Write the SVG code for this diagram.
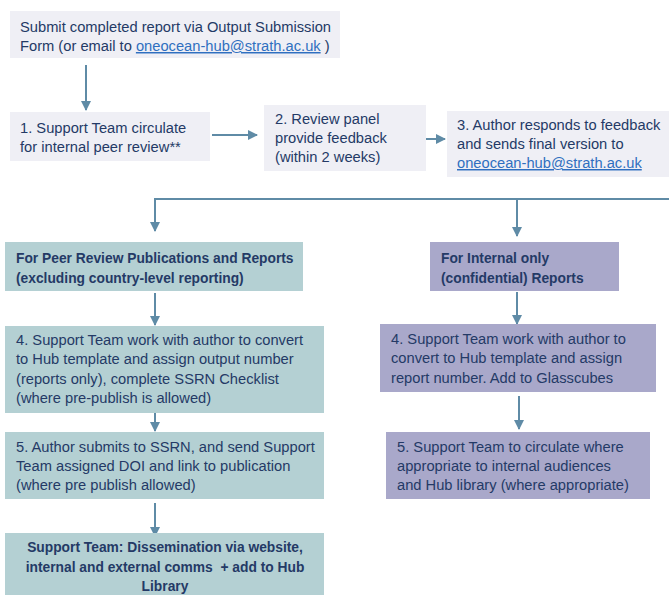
<svg xmlns="http://www.w3.org/2000/svg" width="669" height="595" viewBox="0 0 669 595">
<defs>
<marker id="ah" viewBox="0 0 10 10" refX="9" refY="5" markerWidth="5" markerHeight="5" orient="auto" markerUnits="strokeWidth">
<path d="M0,0 L10,5 L0,10 z" fill="#5F8BA6"/>
</marker>
<style>
.t{font-family:"Liberation Sans",Arial,sans-serif;font-size:14.7px;fill:#243A66}
.b{font-weight:bold;font-size:13.8px}
.lnk{fill:#2F6FC0;text-decoration:underline}
.grey{fill:#EFEFF5}
.teal{fill:#B4D0D3}
.purp{fill:#A9A8CA}
.c{stroke:#5F8BA6;stroke-width:2;fill:none}
.a{marker-end:url(#ah)}
</style>
</defs>
<rect width="669" height="595" fill="#FFFFFF"/>
<g id="connectors">
<line class="c a" x1="86" y1="65" x2="86" y2="110"/>
<line class="c a" x1="212" y1="135" x2="257" y2="135"/>
<line class="c a" x1="402" y1="139" x2="445" y2="139"/>
<line class="c" x1="648" y1="156" x2="669" y2="156"/>
<line class="c" x1="154" y1="199" x2="669" y2="199"/>
<line class="c a" x1="155" y1="199" x2="155" y2="231"/>
<line class="c a" x1="517" y1="200" x2="517" y2="236"/>
<line class="c a" x1="155" y1="293" x2="155" y2="325"/>
<line class="c a" x1="517" y1="292" x2="517" y2="324"/>
<line class="c a" x1="155" y1="398" x2="155" y2="431"/>
<line class="c a" x1="519" y1="396" x2="519" y2="429"/>
<line class="c a" x1="155" y1="503" x2="155" y2="536"/>
</g>
<g id="submit">
<rect class="grey" x="10" y="11" width="330" height="47"/>
<text class="t" x="20" y="32">Submit completed report via Output Submission</text>
<text class="t" x="20" y="51">Form (or email to <tspan class="lnk">oneocean-hub@strath.ac.uk</tspan> )</text>
</g>
<g id="step1">
<rect class="grey" x="10" y="112" width="200" height="49"/>
<text class="t" x="20" y="133">1. Support Team circulate</text>
<text class="t" x="20" y="152">for internal peer review**</text>
</g>
<g id="step2">
<rect class="grey" x="264" y="105" width="162" height="66"/>
<text class="t" x="275" y="124">2. Review panel</text>
<text class="t" x="275" y="143">provide feedback</text>
<text class="t" x="275" y="162">(within 2 weeks)</text>
</g>
<g id="step3">
<rect class="grey" x="447" y="111" width="222" height="66"/>
<text class="t" x="457" y="130">3. Author responds to feedback</text>
<text class="t" x="457" y="149">and sends final version to</text>
<text class="t lnk" x="457" y="168">oneocean-hub@strath.ac.uk</text>
</g>
<g id="peer-header">
<rect class="teal" x="5" y="242" width="298" height="49"/>
<text class="t b" x="16" y="263">For Peer Review Publications and Reports</text>
<text class="t b" x="16" y="283">(excluding country-level reporting)</text>
</g>
<g id="peer-step4">
<rect class="teal" x="5" y="326" width="319" height="87"/>
<text class="t" x="16" y="345">4. Support Team work with author to convert</text>
<text class="t" x="16" y="364">to Hub template and assign output number</text>
<text class="t" x="16" y="384">(reports only), complete SSRN Checklist</text>
<text class="t" x="16" y="403">(where pre-publish is allowed)</text>
</g>
<g id="peer-step5">
<rect class="teal" x="5" y="432" width="319" height="67"/>
<text class="t" x="16" y="452">5. Author submits to SSRN, and send Support</text>
<text class="t" x="16" y="471">Team assigned DOI and link to publication</text>
<text class="t" x="16" y="490">(where pre publish allowed)</text>
</g>
<g id="dissemination">
<rect class="teal" x="5" y="533" width="319" height="62"/>
<text class="t b" x="165" y="552" text-anchor="middle">Support Team: Dissemination via website,</text>
<text class="t b" x="165" y="572" text-anchor="middle">internal and external comms&#160; + add to Hub</text>
<text class="t b" x="165" y="591" text-anchor="middle">Library</text>
</g>
<g id="internal-header">
<rect class="purp" x="430" y="242" width="189" height="49"/>
<text class="t b" x="441" y="263">For Internal only</text>
<text class="t b" x="441" y="283">(confidential) Reports</text>
</g>
<g id="internal-step4">
<rect class="purp" x="380" y="324" width="276" height="68"/>
<text class="t" x="391" y="344">4. Support Team work with author to</text>
<text class="t" x="391" y="363">convert to Hub template and assign</text>
<text class="t" x="391" y="383">report number. Add to Glasscubes</text>
</g>
<g id="internal-step5">
<rect class="purp" x="386" y="432" width="264" height="67"/>
<text class="t" x="397" y="452">5. Support Team to circulate where</text>
<text class="t" x="397" y="471">appropriate to internal audiences</text>
<text class="t" x="397" y="490">and Hub library (where appropriate)</text>
</g>
</svg>
